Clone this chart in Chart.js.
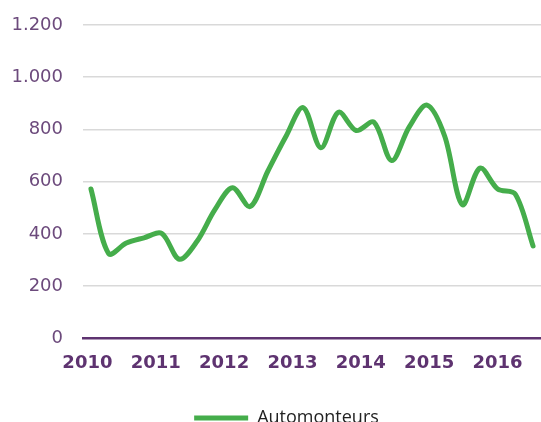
<!DOCTYPE html>
<html>
<head>
<meta charset="utf-8">
<script src="https://cdn.jsdelivr.net/npm/chart.js@4.4.1/dist/chart.umd.min.js"></script>
<style>
  html, body { margin: 0; padding: 0; background: #fff; }
  #wrap { width: 541px; height: 422px; position: relative; }
</style>
</head>
<body>
<div id="wrap"><canvas id="c"></canvas></div>
<script>
// Quarterly categories (2010 Q1 – 2016 Q2)
const quarters = [
  '2010 Q1','2010 Q2','2010 Q3','2010 Q4',
  '2011 Q1','2011 Q2','2011 Q3','2011 Q4',
  '2012 Q1','2012 Q2','2012 Q3','2012 Q4',
  '2013 Q1','2013 Q2','2013 Q3','2013 Q4',
  '2014 Q1','2014 Q2','2014 Q3','2014 Q4',
  '2015 Q1','2015 Q2','2015 Q3','2015 Q4',
  '2016 Q1','2016 Q2'
];
// Series values
const automonteurs = [
  572, 325, 365, 385,
  402, 303, 372, 492,
  577, 505, 640, 770,
  884, 730, 866, 796,
  828, 681, 810, 893,
  775, 512, 652, 572,
  552, 354
];
// Axis tick labels
const yearLabels = ['2010','2011','2012','2013','2014','2015','2016'];
const yTicks = [0, 200, 400, 600, 800, 1000, 1200];
const seriesName = 'Automonteurs';

const purple = '#5e3370';
const purpleLight = '#6c4a7c';
const green = '#45ad4b';

const points = automonteurs.map((v, i) => ({ x: i, y: v }));

const shiftLegend = {
  id: 'shiftLegend',
  afterLayout(chart) {
    if (chart.legend) { chart.legend.left += 16; chart.legend.right += 16; }
  }
};

new Chart(document.getElementById('c'), {
  type: 'line',
  data: {
    datasets: [{
      label: seriesName,
      data: points,
      borderColor: green,
      backgroundColor: green,
      borderWidth: 5,
      borderCapStyle: 'round',
      borderJoinStyle: 'round',
      tension: 0.32,
      pointRadius: 0,
      pointHoverRadius: 0,
      fill: false
    }]
  },
  plugins: [shiftLegend],
  options: {
    responsive: true,
    maintainAspectRatio: false,
    animation: false,
    layout: { padding: { left: 0, right: 0, top: 25, bottom: -15 } },
    plugins: {
      tooltip: {
        callbacks: { title: items => quarters[items[0].parsed.x] }
      },
      legend: {
        position: 'bottom',
        labels: {
          usePointStyle: true,
          pointStyle: 'line',
          pointStyleWidth: 54,
          color: '#222',
          font: { family: 'Open Sans', size: 18 },
          padding: 10
        }
      }
    },
    scales: {
      x: {
        type: 'linear',
        min: -0.45,
        max: 25.45,
        afterBuildTicks: (scale) => {
          scale.ticks = yearLabels.map((y, k) => ({ value: -0.2 + k * 3.865 }));
        },
        afterFit: (scale) => { scale.height += 11; scale.paddingLeft = 0; scale.paddingRight = 0; },
        ticks: {
          autoSkip: false,
          maxRotation: 0,
          padding: 14,
          color: purple,
          font: { family: 'DejaVu Sans', size: 18, weight: 'bold' },
          callback: (v, idx) => yearLabels[idx]
        },
        grid: { display: false, drawTicks: false },
        border: { display: true, color: purple, width: 2.5 }
      },
      y: {
        min: 0,
        max: 1200,
        afterBuildTicks: (scale) => {
          scale.ticks = yTicks.map(v => ({ value: v }));
        },
        afterFit: (scale) => { scale.width = 83; scale.paddingTop = 0; scale.paddingBottom = 0; },
        ticks: {
          padding: 20,
          color: purpleLight,
          font: { family: 'DejaVu Sans', size: 18 },
          callback: (v) => v.toString().replace(/\B(?=(\d{3})+(?!\d))/g, '.')
        },
        grid: {
          drawTicks: false,
          color: (ctx) => ctx.tick && ctx.tick.value === 0 ? 'rgba(0,0,0,0)' : '#d9d9d9',
          lineWidth: 1.5
        },
        border: { display: false }
      }
    }
  }
});
</script>
</body>
</html>
